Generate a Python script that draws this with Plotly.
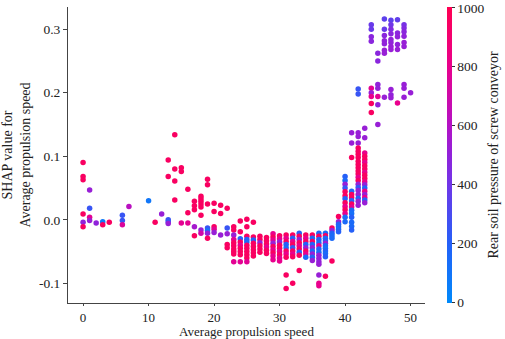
import plotly.graph_objects as go

# Per-column data: speed value, SHAP values, rear soil pressure values
col_speed = [0, 1, 2, 3, 4, 6, 7, 10, 11, 12, 13, 14, 15, 16, 17, 18, 19, 20, 21, 22,
             23, 24, 25, 26, 27, 28, 29, 30, 31, 32, 33, 34, 35, 36, 37, 38, 39, 40,
             41, 42, 43, 44, 45, 46, 47, 48, 49, 50]
col_shap = [
    [0.090, 0.068, 0.063, 0.009, -0.004, -0.011],
    [0.047, 0.018, 0.004, -0.001],
    [-0.005],
    [-0.003, -0.008],
    [-0.004],
    [0.007, -0.001, -0.008],
    [0.021],
    [0.030],
    [-0.004],
    [0.009],
    [0.094, 0.068, 0.000, -0.003, -0.006],
    [0.134, 0.080, 0.061, 0.031],
    [0.082, 0.076, -0.005],
    [0.048, 0.011, -0.005],
    [0.029, 0.022, 0.016, -0.011, -0.025],
    [0.037, 0.033, 0.029, 0.025, 0.020, 0.007, -0.016, -0.021],
    [0.064, 0.055, 0.025, -0.013, -0.017, -0.021, -0.029],
    [0.026, 0.013, -0.011, -0.015, -0.020],
    [0.023, 0.010, -0.024],
    [0.018, -0.013, -0.022, -0.039, -0.044],
    [-0.011, -0.016, -0.024, -0.031, -0.036, -0.041, -0.046, -0.050, -0.054, -0.066],
    [-0.002, -0.019, -0.030, -0.035, -0.040, -0.045, -0.050, -0.055, -0.066],
    [0.001, -0.011, -0.026, -0.031, -0.035, -0.040, -0.045, -0.050, -0.055, -0.060, -0.066],
    [-0.004, -0.027, -0.032, -0.037, -0.042, -0.047, -0.052, -0.057],
    [-0.026, -0.031, -0.036, -0.041, -0.046, -0.051],
    [-0.028, -0.033, -0.038, -0.043, -0.048, -0.053],
    [-0.022, -0.027, -0.032, -0.037, -0.042, -0.047, -0.052, -0.057, -0.063],
    [-0.025, -0.030, -0.035, -0.040, -0.045, -0.050, -0.055, -0.060, -0.065],
    [-0.024, -0.029, -0.034, -0.039, -0.044, -0.049, -0.054, -0.059, -0.087, -0.108],
    [-0.024, -0.029, -0.034, -0.039, -0.044, -0.049, -0.054, -0.058, -0.100],
    [-0.021, -0.026, -0.031, -0.036, -0.041, -0.046, -0.051, -0.056, -0.080],
    [-0.024, -0.029, -0.034, -0.039, -0.044, -0.049, -0.054, -0.059],
    [-0.024, -0.029, -0.034, -0.039, -0.044, -0.049, -0.054, -0.059, -0.064],
    [-0.021, -0.026, -0.031, -0.036, -0.041, -0.046, -0.051, -0.056, -0.061, -0.066, -0.070, -0.087, -0.100, -0.104],
    [-0.021, -0.025, -0.029, -0.033, -0.037, -0.041, -0.045, -0.049, -0.053, -0.058, -0.089],
    [-0.013, -0.017, -0.021, -0.025, -0.029, -0.065],
    [0.005, -0.003, -0.007, -0.011, -0.015, -0.019],
    [0.068, 0.062, 0.056, 0.050, 0.044, 0.038, 0.033, 0.027, 0.021, 0.016, 0.010, 0.004, -0.003],
    [0.137, 0.121, 0.098, 0.045, 0.040, 0.035, 0.030, 0.025, 0.020, 0.015, 0.010, 0.004, -0.004, -0.010, -0.016],
    [0.206, 0.198, 0.137, 0.131, 0.121, 0.113, 0.108, 0.103, 0.098, 0.092, 0.087, 0.082, 0.077,
     0.072, 0.067, 0.062, 0.056, 0.051, 0.046, 0.040, 0.034, 0.029, 0.023],
    [0.144, 0.129, 0.105, 0.100, 0.095, 0.090, 0.085, 0.080, 0.075, 0.070, 0.065, 0.060, 0.055,
     0.050, 0.045, 0.040, 0.035, 0.031, 0.027],
    [0.307, 0.300, 0.288, 0.281, 0.207, 0.200, 0.194, 0.183, 0.169],
    [0.262, 0.250, 0.213, 0.207, 0.194, 0.181, 0.150],
    [0.316, 0.300, 0.290, 0.282, 0.277, 0.267, 0.262, 0.193],
    [0.314, 0.307, 0.300, 0.293, 0.284, 0.279, 0.273, 0.268, 0.205, 0.197, 0.192],
    [0.315, 0.294, 0.288, 0.276, 0.268, 0.184],
    [0.307, 0.302, 0.296, 0.289, 0.279, 0.273, 0.213, 0.207, 0.193],
    [0.200],
]
col_pressure = [
    [950, 950, 950, 950, 500, 950],
    [520, 250, 780, 520],
    [500],
    [80, 950],
    [950],
    [250, 250, 750],
    [620],
    [90],
    [950],
    [520],
    [950, 950, 250, 250, 520],
    [950, 950, 950, 950],
    [950, 950, 780],
    [950, 950, 780],
    [950, 950, 950, 560, 950],
    [950, 950, 950, 950, 950, 950, 520, 700],
    [950, 950, 950, 250, 120, 500, 950],
    [950, 950, 950, 780, 520],
    [950, 950, 520],
    [950, 250, 520, 950, 950],
    [950, 950, 520, 780, 950, 950, 950, 950, 950, 780],
    [950, 950, 200, 950, 800, 950, 950, 950, 780],
    [950, 950, 950, 200, 150, 950, 950, 950, 950, 950, 780],
    [950, 950, 200, 950, 950, 950, 950, 950],
    [950, 950, 520, 950, 950, 950],
    [950, 950, 950, 800, 950, 950],
    [800, 950, 800, 520, 950, 800, 950, 800, 800],
    [950, 800, 520, 950, 950, 800, 950, 800, 800],
    [950, 800, 950, 200, 150, 950, 800, 950, 950, 950],
    [950, 200, 800, 950, 250, 950, 800, 950, 950],
    [200, 950, 520, 950, 800, 950, 200, 950, 950],
    [950, 800, 950, 200, 520, 950, 800, 150],
    [950, 150, 950, 200, 520, 150, 520, 200, 520],
    [150, 950, 200, 150, 800, 200, 150, 520, 520, 500, 520, 520, 800, 800],
    [150, 950, 150, 200, 520, 150, 120, 200, 150, 200, 950],
    [950, 520, 200, 150, 150, 950],
    [950, 520, 200, 150, 150, 200],
    [200, 150, 520, 250, 950, 950, 200, 950, 800, 950, 800, 150, 150],
    [520, 520, 950, 150, 950, 950, 200, 950, 800, 150, 120, 200, 150, 150, 200],
    [250, 250, 520, 520, 520, 950, 950, 950, 950, 950, 950, 950, 950,
     950, 800, 950, 520, 250, 520, 520, 200, 520, 520],
    [520, 520, 800, 950, 950, 800, 950, 950, 800, 950, 950, 800, 520,
     200, 800, 520, 800, 200, 520],
    [380, 380, 480, 480, 780, 520, 800, 950, 950],
    [480, 480, 500, 500, 780, 500, 520],
    [350, 380, 480, 500, 500, 520, 520, 520],
    [350, 400, 450, 480, 500, 500, 520, 520, 520, 500, 520],
    [360, 480, 500, 500, 520, 800],
    [420, 450, 480, 500, 520, 520, 520, 520, 520],
    [520],
]

x_ticks = [0, 10, 20, 30, 40, 50]
y_ticks = [-0.1, 0.0, 0.1, 0.2, 0.3]
y_tick_labels = ["-0.1", "0.0", "0.1", "0.2", "0.3"]
cbar_ticks = [0, 200, 400, 600, 800, 1000]
cbar_tick_labels = ["0", "200", "400", "600", "800", "1000"]

speed, shap, pressure = [], [], []
for sx, ys, cs in zip(col_speed, col_shap, col_pressure):
    for yv, cv in zip(ys, cs):
        speed.append(sx)
        shap.append(yv)
        pressure.append(cv)

colorscale = [
    [0.0, "rgb(0,138,250)"],
    [0.2, "rgb(36,96,248)"],
    [0.4, "rgb(112,54,232)"],
    [0.5, "rgb(145,34,218)"],
    [0.6, "rgb(180,18,197)"],
    [0.8, "rgb(233,0,140)"],
    [1.0, "rgb(255,0,82)"],
]

font = dict(family="Liberation Serif", size=14, color="#222")
xtitle_font = dict(family="Liberation Serif", size=13, color="#222")
tick_font = dict(family="Liberation Serif", size=13.5, color="#222")
xtick_font = dict(family="Liberation Serif", size=13, color="#222")

fig = go.Figure(go.Scatter(
    x=speed, y=shap, mode="markers",
    marker=dict(
        size=5.5, color=pressure, cmin=-3, cmax=1003, colorscale=colorscale,
        line=dict(width=0),
        colorbar=dict(
            x=1.0616, xanchor="left", xpad=0, y=0.5, yanchor="middle",
            len=1, lenmode="fraction", ypad=0, thickness=4.5,
            outlinewidth=0, ticks="outside", ticklen=3, tickwidth=1,
            tickcolor="#333", tickvals=cbar_ticks,
            ticktext=[t + "\u2002" for t in cbar_tick_labels],
            tickfont=tick_font,
            title=dict(text="Rear soil pressure of screw conveyor", side="right",
                       font=font),
        ),
    ),
    showlegend=False,
    hoverinfo="skip",
))

fig.update_layout(
    width=505, height=339,
    margin=dict(l=68, r=80, t=7, b=36, autoexpand=False),
    plot_bgcolor="white", paper_bgcolor="white",
    font=font,
    xaxis=dict(
        range=[-2.3, 52.2], tickvals=x_ticks, showgrid=False, zeroline=False,
        showline=True, linecolor="#444", linewidth=1, ticks="outside",
        ticklen=2, tickcolor="#444", tickfont=xtick_font,
        title=dict(text="Average propulsion speed", standoff=3, font=xtitle_font),
    ),
    yaxis=dict(
        range=[-0.131, 0.335], tickvals=y_ticks, ticktext=y_tick_labels,
        showgrid=False, zeroline=False,
        showline=True, linecolor="#444", linewidth=1, ticks="outside",
        ticklen=4, tickcolor="#444", tickfont=tick_font,
        title=dict(text="SHAP value for<br>Average propulsion speed", standoff=12, font=font),
    ),
)

fig.write_html("out.html", config={"displayModeBar": False},
               post_script="document.body.style.margin='0';")
